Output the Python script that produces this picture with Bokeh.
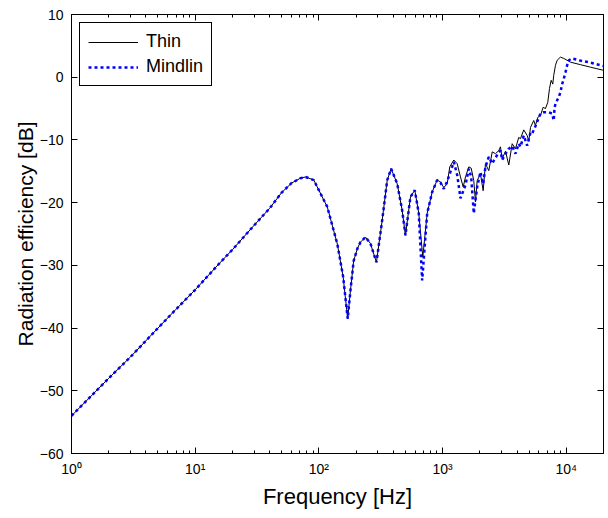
from bokeh.plotting import figure
from bokeh.models import (FixedTicker, LogAxis, LinearAxis, Legend, LegendItem,
                          Range1d)
from bokeh.embed import file_html
from bokeh.resources import INLINE

# ---- data ----
freq_common = [1, 2, 3, 5, 7, 10, 15, 20, 30, 40, 50, 60, 71, 78, 91, 97, 117, 141,
               157, 171, 180, 191, 205, 217, 238, 261, 292, 325, 357, 384, 430, 471,
               501, 550, 596, 642]
db_common = [-54.0, -48.0, -44.6, -40.0, -37.0, -33.9, -30.1, -27.5, -23.6, -20.9,
             -18.4, -16.9, -16.1, -15.9, -16.4, -17.5, -20.7, -26.6, -31.8, -38.5,
             -34.0, -29.3, -27.3, -26.3, -25.5, -26.5, -29.5, -22.8, -16.4, -14.6,
             -17.0, -21.2, -25.2, -19.1, -18.0, -21.7]

freq_thin_hi = [692, 751, 824, 904, 962, 1023, 1090, 1143, 1233, 1313, 1396, 1468,
                1532, 1629, 1703, 1788, 1845, 1904, 2025, 2129, 2222, 2364, 2520,
                2678, 2846, 2938, 3034, 3225, 3430, 3654, 3884, 4130, 4263, 4533,
                4830, 4977, 5140, 5460, 5636, 5885, 6185, 6500, 6790, 7090, 7315,
                7550, 7780, 7920, 8180, 8440, 8970, 9540, 10810, 13020, 15700, 20000]
db_thin_hi = [-28.7, -21.7, -18.3, -16.4, -16.7, -17.6, -17.0, -14.3, -13.2, -13.8,
              -15.9, -17.5, -15.9, -14.3, -14.5, -16.5, -19.9, -16.5, -15.4, -18.1,
              -13.8, -14.9, -11.9, -12.2, -11.7, -11.1, -13.0, -11.8, -14.0, -10.6,
              -11.4, -9.6, -9.8, -8.4, -9.3, -10.2, -8.0, -6.9, -7.7, -6.4, -6.1,
              -4.8, -5.0, -4.0, -1.8, -0.5, -1.1, 0.3, 1.9, 2.7, 3.2, 3.0, 2.4, 2.0,
              1.6, 1.1]

freq_mindlin_hi = [684, 751, 824, 904, 962, 1023, 1090, 1143, 1233, 1313, 1396, 1532,
                   1629, 1703, 1788, 1904, 2025, 2129, 2222, 2364, 2520, 2610, 2846,
                   2938, 3034, 3225, 3430, 3654, 3884, 4130, 4263, 4533, 4830, 5140,
                   5300, 5636, 6185, 6500, 7220, 7690, 7920, 8030, 8180, 8690, 8970,
                   9260, 9540, 9860, 10160, 10480, 11170, 12600, 15100, 20000]
db_mindlin_hi = [-32.4, -21.7, -18.3, -16.4, -16.8, -17.8, -16.6, -15.4, -13.5, -15.6,
                 -19.3, -17.2, -14.6, -15.9, -21.7, -17.5, -15.1, -17.0, -14.3, -12.7,
                 -13.8, -13.2, -12.0, -11.7, -13.2, -12.2, -11.4, -11.0, -12.2, -10.6,
                 -11.1, -9.3, -10.9, -8.8, -9.0, -7.8, -5.8, -5.6, -5.6, -5.8, -6.9,
                 -5.0, -4.2, -3.2, -2.4, -1.1, -0.3, 0.8, 1.9, 2.7, 3.0, 2.7, 2.4, 1.8]

x_major = [1, 10, 100, 1000, 10000]
x_labels = ["10\u2070", "10\u00b9", "10\u00b2", "10\u00b3", "10\u2074"]
y_major = [-60, -50, -40, -30, -20, -10, 0, 10]

freq_thin = freq_common + freq_thin_hi
db_thin = db_common + db_thin_hi
freq_mindlin = freq_common + freq_mindlin_hi
db_mindlin = db_common + db_mindlin_hi

FONT = "Liberation Sans"

p = figure(width=608, height=518, x_axis_type="log",
           x_range=Range1d(1, 20000), y_range=Range1d(-60, 10),
           output_backend="svg", toolbar_location=None,
           min_border_left=71, min_border_right=5, min_border_top=14,
           min_border_bottom=65)
p.xgrid.visible = False
p.ygrid.visible = False
p.outline_line_color = "black"
p.outline_line_alpha = 1.0
p.outline_line_width = 1
p.background_fill_color = "white"
p.border_fill_color = "white"

minor = [m * d for d in [1, 10, 100, 1000] for m in range(2, 10)]
xticker = FixedTicker(ticks=x_major, minor_ticks=minor)
yticker = FixedTicker(ticks=y_major, minor_ticks=[])


def style_axis(ax):
    ax.axis_line_color = "black"
    ax.major_tick_line_color = "black"
    ax.minor_tick_line_color = "black"
    ax.major_tick_in = 6
    ax.major_tick_out = 0
    ax.minor_tick_in = 3
    ax.minor_tick_out = 0
    ax.major_label_text_font = FONT
    ax.major_label_text_font_size = "14px"
    ax.major_label_text_color = "black"
    ax.axis_label_text_font = FONT
    ax.axis_label_text_font_size = "21px"
    ax.axis_label_text_font_style = "normal"
    ax.axis_label_text_color = "black"


xa = p.xaxis[0]
xa.ticker = xticker
style_axis(xa)
xa.major_label_overrides = {v: s for v, s in zip(x_major, x_labels)}
xa.axis_label = "Frequency [Hz]"
xa.axis_label_text_font_size = "22px"
xa.major_label_standoff = 7
xa.axis_label_standoff = 4

ya = p.yaxis[0]
ya.ticker = yticker
style_axis(ya)
ya.axis_label = "Radiation efficiency [dB]"
ya.major_label_standoff = 8
ya.axis_label_standoff = 0

top = LogAxis(ticker=xticker)
style_axis(top)
top.major_label_text_font_size = "1px"
top.major_label_text_alpha = 0.0
top.major_label_standoff = 0
p.add_layout(top, "above")

right = LinearAxis(ticker=yticker)
style_axis(right)
right.major_label_text_font_size = "1px"
right.major_label_text_alpha = 0.0
right.major_label_standoff = 0
p.add_layout(right, "right")

r_thin = p.line(freq_thin, db_thin, line_color="black", line_width=1)
r_mind = p.line(freq_mindlin, db_mindlin, line_color="#0000ff", line_width=2.5,
                line_dash="3 3")

legend = Legend(items=[LegendItem(label="Thin", renderers=[r_thin]),
                       LegendItem(label="Mindlin", renderers=[r_mind])],
                location="top_left")
legend.border_line_color = "black"
legend.border_line_width = 1
legend.border_line_alpha = 1.0
legend.background_fill_color = "white"
legend.background_fill_alpha = 1.0
legend.label_text_font = FONT
legend.label_text_font_size = "18px"
legend.label_text_color = "black"
legend.glyph_width = 50
legend.glyph_height = 20
legend.label_height = 20
legend.spacing = 4
legend.padding = 8
legend.margin = 8
legend.label_standoff = 8
p.add_layout(legend)

open("out.html", "w").write(file_html(p, INLINE))
